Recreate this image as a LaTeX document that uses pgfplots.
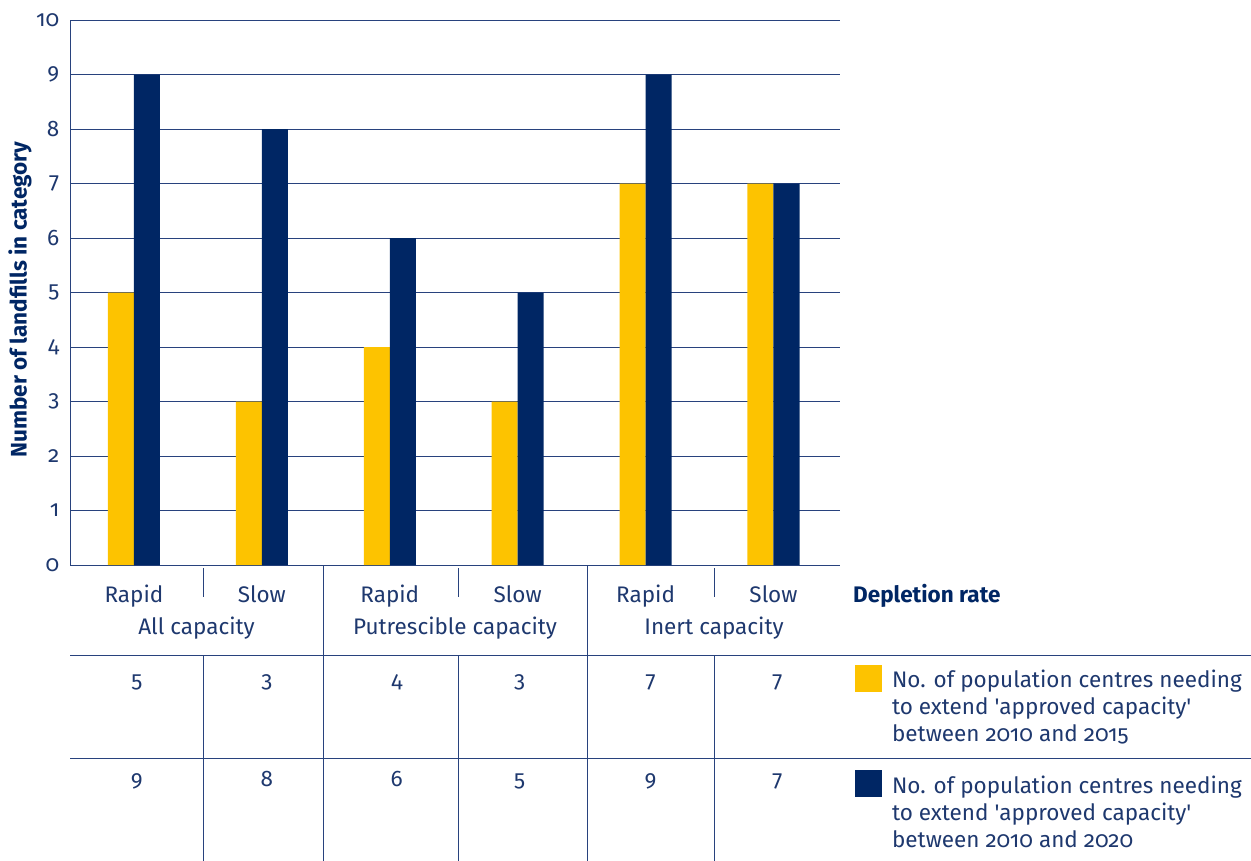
\documentclass[border=0pt]{standalone}
\usepackage{fontspec}
\setmainfont{Fira Sans}[Numbers=OldStyle]
\usepackage{pgfplots}
\pgfplotsset{compat=1.18}
\definecolor{cyellow}{RGB}{253,195,0}
\definecolor{cnavy}{RGB}{0,38,100}
\definecolor{ctext}{RGB}{30,56,110}
\definecolor{cline}{RGB}{40,66,125}
\begin{document}
\fontsize{22.5bp}{27bp}\selectfont
\begin{tikzpicture}[x=1bp,y=1bp]
\useasboundingbox (0,0) rectangle (1251,-861);
\begin{axis}[
  at={(70bp,-565bp)}, anchor=south west,
  scale only axis, width=770bp, height=545bp,
  xmin=-0.5, xmax=5.52, ymin=0, ymax=10,
  ytick={0,...,10},
  ymajorgrids, grid style={cline, line width=1bp},
  axis x line*=bottom, axis y line*=left,
  axis line style={cline, line width=1bp},
  major tick length=0pt,
  xtick={0,...,5},
  xticklabels={Rapid,Slow,Rapid,Slow,Rapid,Slow},
  xticklabel style={anchor=base, yshift=-37bp, text=ctext},
  yticklabel style={xshift=-3bp, text=ctext},
  /pgf/number format/assume math mode=true,
  ylabel={Number of landfills in category},
  every axis y label/.style={at={(axis description cs:-0.0649,0.487)}, rotate=90, anchor=center, font=\bfseries, text=cnavy},
  clip=false,
  legend style={draw=none, fill=none, inner sep=0pt, outer sep=0pt,
    at={(axis description cs:1.0195,-0.183)}, anchor=north west,
    row sep=77bp, column sep=8bp, text=ctext,
    cells={anchor=base west}},
  legend image code/.code={\fill[#1] (0bp,-4bp) rectangle (27bp,23bp);},
]
\addplot[ybar, bar width=26bp, bar shift=-13bp, fill=cyellow, draw=none]
  coordinates {(0,5) (1,3) (2,4) (3,3) (4,7) (5,7)};
\addlegendentry{\parbox[t]{360bp}{\raggedright No. of population centres needing\\to extend \textquotesingle approved capacity\textquotesingle\\between 2010 and 2015}}
\addplot[ybar, bar width=26bp, bar shift=13bp, fill=cnavy, draw=none]
  coordinates {(0,9) (1,8) (2,6) (3,5) (4,9) (5,7)};
\addlegendentry{\parbox[t]{360bp}{\raggedright No. of population centres needing\\to extend \textquotesingle approved capacity\textquotesingle\\between 2010 and 2020}}
% table values
\addplot[draw=none, mark=none, forget plot, nodes near coords, point meta=explicit symbolic,
  every node near coord/.style={anchor=base, inner sep=0pt, text=ctext}]
  coordinates {(0.023,-2.24)[5] (1.039,-2.24)[3] (2.055,-2.24)[4] (3.016,-2.24)[3] (4.039,-2.24)[7] (5.031,-2.24)[7]};
\addplot[draw=none, mark=none, forget plot, nodes near coords, point meta=explicit symbolic,
  every node near coord/.style={anchor=base, inner sep=0pt, text=ctext}]
  coordinates {(0.023,-4.073)[9] (1.039,-4.073)[8] (2.055,-4.073)[6] (3.016,-4.073)[5] (4.039,-4.073)[9] (5.031,-4.073)[7]};
\end{axis}
\begin{scope}[cline, line width=1bp]
\draw (203,-568) -- (203,-597);
\draw (458,-568) -- (458,-597);
\draw (714,-568) -- (714,-597);
\draw (323,-565) -- (323,-861);
\draw (587,-565) -- (587,-861);
\draw (70,-655) -- (1251,-655);
\draw (70,-758) -- (1251,-758);
\draw (203,-655) -- (203,-861);
\draw (458,-655) -- (458,-861);
\draw (714,-655) -- (714,-861);
\end{scope}
\node[anchor=base, text=ctext] at (196.5,-634) {All capacity};
\node[anchor=base, text=ctext] at (455,-634) {Putrescible capacity};
\node[anchor=base, text=ctext] at (714,-634) {Inert capacity};
\node[anchor=base west, inner sep=0pt, font=\bfseries, text=cnavy] at (853,-602) {Depletion rate};
\end{tikzpicture}
\end{document}
